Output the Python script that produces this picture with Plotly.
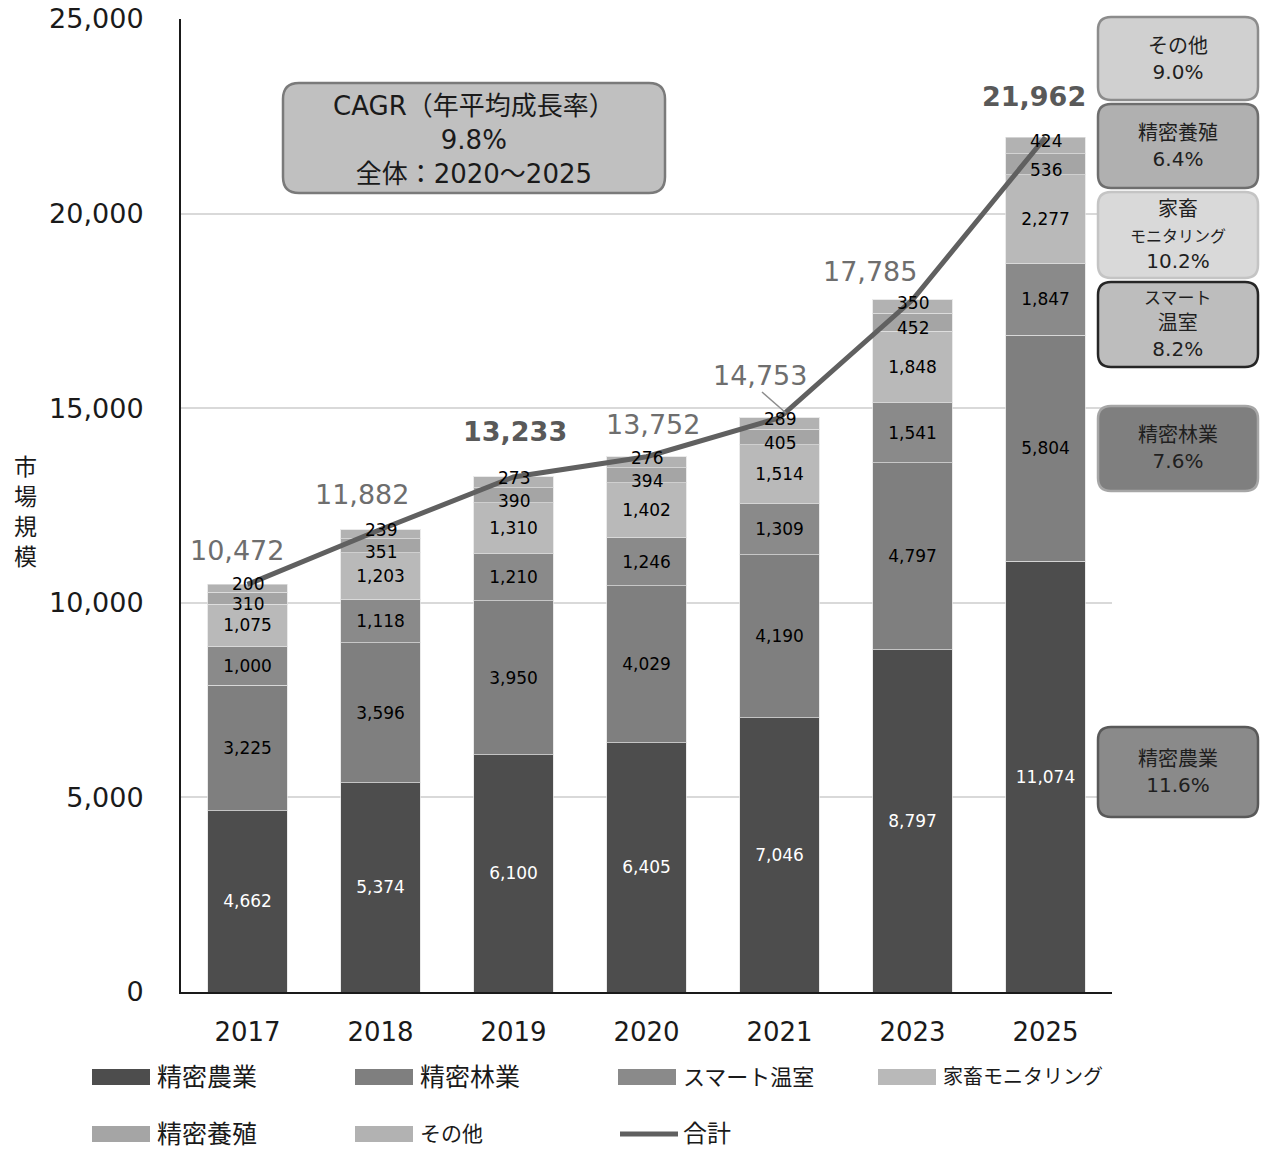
import plotly.graph_objects as go

# ---------------- data ----------------
years = ["2017", "2018", "2019", "2020", "2021", "2023", "2025"]
seg_names = ["精密農業", "精密林業", "スマート温室", "家畜モニタリング", "精密養殖", "その他"]
precision_agri = [4662, 5374, 6100, 6405, 7046, 8797, 11074]
precision_forest = [3225, 3596, 3950, 4029, 4190, 4797, 5804]
smart_greenhouse = [1000, 1118, 1210, 1246, 1309, 1541, 1847]
livestock_monitor = [1075, 1203, 1310, 1402, 1514, 1848, 2277]
precision_aqua = [310, 351, 390, 394, 405, 452, 536]
others = [200, 239, 273, 276, 289, 350, 424]
totals = [10472, 11882, 13233, 13752, 14753, 17785, 21962]
total_bold = [False, False, True, False, False, False, True]
y_ticks = [0, 5000, 10000, 15000, 20000, 25000]
cagr_labels = ["その他<br>9.0%", "精密養殖<br>6.4%",
               "家畜<br><span style='font-size:16px'>モニタリング</span><br>10.2%",
               "<span style='font-size:17px'>スマート</span><br>温室<br>8.2%",
               "精密林業<br>7.6%", "精密農業<br>11.6%"]
cagr_title = "CAGR（年平均成長率）<br>9.8%<br>全体：2020～2025"

series = [precision_agri, precision_forest, smart_greenhouse,
          livestock_monitor, precision_aqua, others]
colors = ["#4d4d4d", "#7f7f7f", "#8a8a8a", "#b9b9b9", "#a5a5a5", "#b2b2b2"]
text_colors = ["white", "black", "black", "black", "black", "black"]
# thin top segments get their labels as annotations, nudged apart (px)
label_nudge = [None, None, None, None, -6, 4]

FONT = "DejaVu Sans, Noto Sans CJK JP, sans-serif"
W, H = 1266, 1149
L, R, T, B = 181, 1112, 19, 992  # plot area in px

def px(x):
    return (x - L) / (R - L)

def py(y):
    return (B - y) / (B - T)

def rounded_path(x0, y0, x1, y1, r):
    pts = [
        f"M {px(x0 + r)},{py(y0)}",
        f"L {px(x1 - r)},{py(y0)}",
        f"Q {px(x1)},{py(y0)} {px(x1)},{py(y0 + r)}",
        f"L {px(x1)},{py(y1 - r)}",
        f"Q {px(x1)},{py(y1)} {px(x1 - r)},{py(y1)}",
        f"L {px(x0 + r)},{py(y1)}",
        f"Q {px(x0)},{py(y1)} {px(x0)},{py(y1 - r)}",
        f"L {px(x0)},{py(y0 + r)}",
        f"Q {px(x0)},{py(y0)} {px(x0 + r)},{py(y0)} Z",
    ]
    return " ".join(pts)

fig = go.Figure()
annotations = []
shapes = []

base = [0] * len(years)
for name, vals, c, tc, nudge in zip(seg_names, series, colors, text_colors, label_nudge):
    inside = nudge is None
    fig.add_trace(go.Bar(
        x=years, y=vals, name=name,
        marker=dict(color=c, line=dict(color="rgba(225,225,225,0.7)", width=1)),
        texttemplate="%{y:,.0f}" if inside else None,
        textposition="inside" if inside else "none",
        insidetextanchor="middle",
        textfont=dict(size=17, color=tc, family=FONT),
        showlegend=False,
    ))
    if not inside:
        for i, v in enumerate(vals):
            annotations.append(dict(
                x=i, y=base[i] + v / 2, xref="x", yref="y", text=f"{v:,}",
                showarrow=False, xanchor="center", yanchor="middle", yshift=nudge,
                font=dict(size=17, color=tc, family=FONT),
            ))
    base = [b + v for b, v in zip(base, vals)]

fig.add_trace(go.Scatter(
    x=years, y=totals, mode="lines", name="合計",
    line=dict(color="#606060", width=5),
    showlegend=False,
))

# total labels (x given as category index)
offsets = [(-11, 34), (-19, 35), (1, 45), (6, 32), (-20, 42), (-43, 28), (-12, 41)]
for i, (tot, bold, (dx, dy)) in enumerate(zip(totals, total_bold, offsets)):
    txt = f"{tot:,}"
    if bold:
        txt = f"<b>{txt}</b>"
    annotations.append(dict(
        x=i, y=tot, xref="x", yref="y", text=txt, showarrow=False,
        xanchor="center", yanchor="middle", xshift=dx, yshift=dy,
        font=dict(size=27, color="#595959" if bold else "#6e6e6e", family=FONT),
    ))

# leader line for 2021
shapes.append(dict(type="line", xref="paper", yref="paper",
                   x0=px(762), y0=py(392), x1=px(786), y1=py(413),
                   line=dict(color="#8c8c8c", width=1.5)))

# CAGR main box
shapes.append(dict(type="path", xref="paper", yref="paper",
                   path=rounded_path(283, 83, 665, 193, 16),
                   fillcolor="#c0c0c0", line=dict(color="#7a7a7a", width=2.5)))
annotations.append(dict(xref="paper", yref="paper", x=px(474), y=py(140),
                        xanchor="center", yanchor="middle",
                        text=cagr_title, showarrow=False,
                        font=dict(size=26, color="#1a1a1a", family=FONT)))

# right side CAGR boxes
box_pos = [(17, 100), (104, 188), (192, 278), (282, 367), (406, 491), (727, 817)]
box_fill = ["#d0d0d0", "#b0b0b0", "#d9d9d9", "#bdbdbd", "#7f7f7f", "#8a8a8a"]
box_line = ["#8c8c8c", "#6e6e6e", "#c4c4c4", "#262626", "#a6a6a6", "#595959"]
for lab, (y0, y1), fc, lc in zip(cagr_labels, box_pos, box_fill, box_line):
    shapes.append(dict(type="path", xref="paper", yref="paper",
                       path=rounded_path(1098, y0, 1258, y1, 13),
                       fillcolor=fc, line=dict(color=lc, width=2.5)))
    annotations.append(dict(xref="paper", yref="paper", x=px(1178), y=py((y0 + y1) / 2),
                            xanchor="center", yanchor="middle",
                            text=lab, showarrow=False,
                            font=dict(size=20, color="#1f1f1f", family=FONT)))

# y axis title
annotations.append(dict(xref="paper", yref="paper", x=px(25), y=py(512),
                        xanchor="center", yanchor="middle",
                        text="市<br>場<br>規<br>模", showarrow=False,
                        font=dict(size=23, color="#1a1a1a", family=FONT)))

# manual legend
leg_items = [
    ("精密農業", colors[0], 92, 1077, "bar", 25),
    ("精密林業", colors[1], 355, 1077, "bar", 25),
    ("スマート温室", colors[2], 618, 1077, "bar", 22),
    ("家畜モニタリング", colors[3], 878, 1077, "bar", 20),
    ("精密養殖", colors[4], 92, 1134, "bar", 25),
    ("その他", colors[5], 355, 1134, "bar", 21),
    ("合計", "#606060", 618, 1134, "line", 24),
]
for lab, c, x0, yc, kind, fs in leg_items:
    if kind == "bar":
        shapes.append(dict(type="rect", xref="paper", yref="paper",
                           x0=px(x0), x1=px(x0 + 58), y0=py(yc - 8), y1=py(yc + 8),
                           fillcolor=c, line=dict(width=0)))
    else:
        shapes.append(dict(type="line", xref="paper", yref="paper",
                           x0=px(x0 + 2), x1=px(x0 + 60), y0=py(yc), y1=py(yc),
                           line=dict(color=c, width=5)))
    annotations.append(dict(xref="paper", yref="paper", x=px(x0 + 63), y=py(yc),
                            xanchor="left", yanchor="middle", text=lab, showarrow=False,
                            font=dict(size=fs, color="#1a1a1a", family=FONT)))

fig.update_layout(
    width=W, height=H,
    margin=dict(l=L, r=W - R, t=T, b=H - B, pad=0, autoexpand=False),
    barmode="stack", bargap=0.4,
    plot_bgcolor="white", paper_bgcolor="white",
    font=dict(family=FONT, color="#1a1a1a"),
    uniformtext=dict(minsize=17, mode="show"),
    showlegend=False,
    shapes=shapes, annotations=annotations,
)
fig.update_xaxes(
    type="category", range=[-0.5, len(years) - 0.5], automargin=False,
    showline=True, linecolor="#1a1a1a", linewidth=2,
    showgrid=False, ticks="", tickfont=dict(size=26, color="#1a1a1a"),
    ticklabelstandoff=16,
)
fig.update_yaxes(
    range=[0, 25000], tickvals=y_ticks, tickformat=",", automargin=False,
    showline=True, linecolor="#1a1a1a", linewidth=2,
    showgrid=True, gridcolor="#d9d9d9", gridwidth=2,
    zeroline=False, ticks="", tickfont=dict(size=27, color="#1a1a1a"),
    ticklabelstandoff=30,
)

fig.write_html("out.html")
